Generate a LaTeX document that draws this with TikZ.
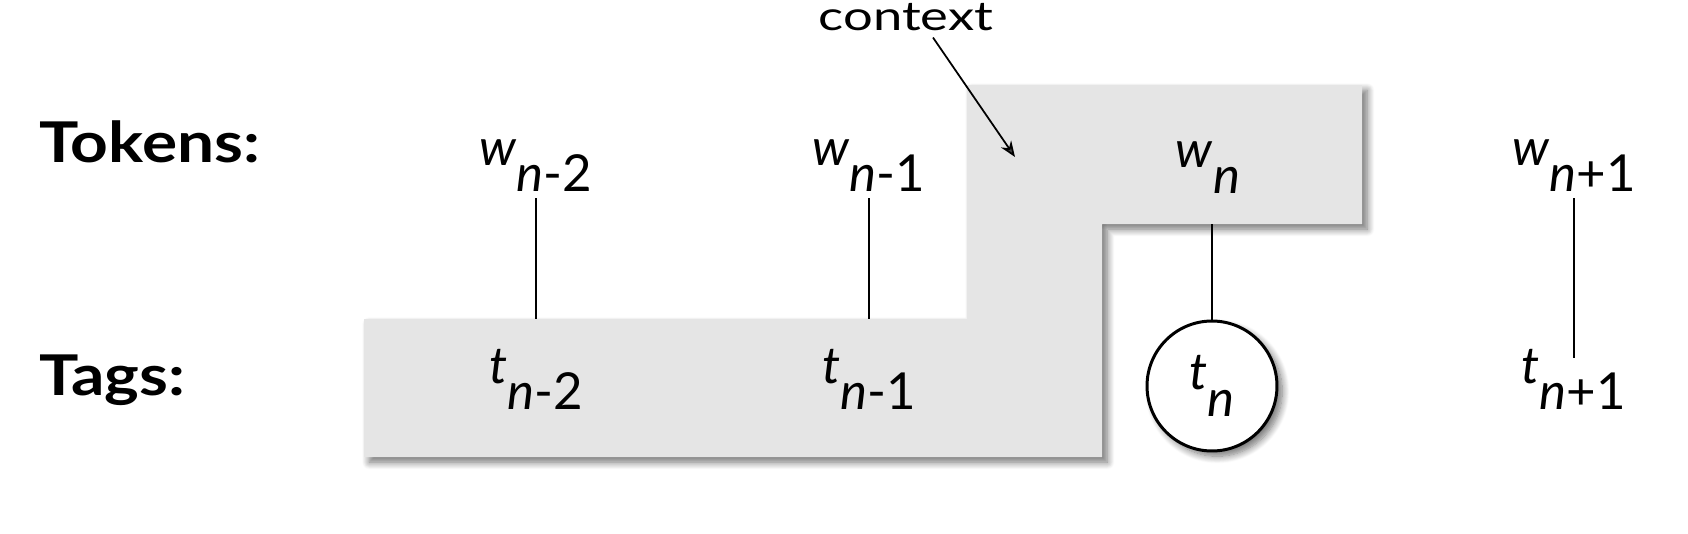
\documentclass[tikz,border=0pt]{standalone}
\usepackage{fontspec}
\setmainfont{Lato}
\usepackage{tikz}
\usetikzlibrary{arrows.meta}
\usetikzlibrary{shadows.blur}
\usetikzlibrary{positioning}
\definecolor{ctxgray}{gray}{0.9}

\newcommand{\sym}[2]{\textit{#1}\raisebox{-0.54cm}{\textit{n}#2}}

\begin{document}
\begin{tikzpicture}[
x=0.02cm, y=-0.02cm,
every node/.style={font=\fontsize{29}{34}\selectfont, anchor=base},
heading/.style={font=\fontsize{32}{38}\selectfont\bfseries, anchor=base west},
ctxshadow/.style={blur shadow={shadow xshift=3pt, shadow yshift=-3pt, shadow blur steps=10, shadow blur radius=4pt, shadow opacity=55}},
tagcircle/.style={circle, draw=black, line width=1.7pt, fill=white, minimum size=2.6cm, inner sep=0, anchor=center, ctxshadow},
link/.style={line width=1.4pt}
]
\useasboundingbox (0,0) rectangle (1688,534);

% context region
\path[fill=ctxgray, ctxshadow] (364,319) -- (967,319) -- (967,85) -- (1362,85)
    -- (1362,224) -- (1102,224) -- (1102,457) -- (364,457) -- cycle;
\coordinate (lowtop) at (364,319);
\coordinate (step) at (1102,224);

% row headings
\node[heading] (tokens) at (33,162) {\scalebox{1.17}[1]{Tokens:}};
\node[heading] (tags) at (33,395) {\scalebox{1.17}[1]{Tags:}};

% tokens and tags
\foreach \x/\s/\v in {536/-2/2, 869/-1/1}{
    \node (w\v) at (\x,165) {\sym{w}{\s}};
    \node (t\v) at (\x,383) {\sym{t}{\s}};
    \draw[link] (w\v.south) -- (w\v.south |- lowtop);
}
\node (wn) at (1208,167) {\sym{w}{}};
\node[tagcircle] (tn) at (1212,386) {\sym{t}{}};
\draw[link] (tn.north) -- (tn.north |- step);

\node (wp) at (1574,165) {\sym{w}{+1}};
\node (tp) at (1574,383) {\sym{t}{+1}};
\draw[link, shorten >=-0.3cm] (wp.south) -- (tp.north);

% context label
\node[font=\fontsize{23}{28}\selectfont] (ctx) at (906,31) {\scalebox{1.3}[1]{context}};
\coordinate (ctxtip) at (1015,157);
\draw[line width=1pt, -{Stealth[length=9pt, width=7pt]}] ([xshift=0.54cm]ctx.south) -- (ctxtip);
\end{tikzpicture}
\end{document}
